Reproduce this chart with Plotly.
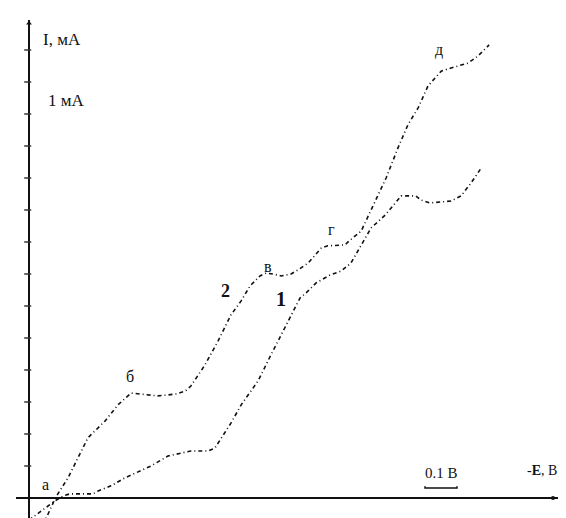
import plotly.graph_objects as go

# Curve 2 (upper): potential -E (V) and current I (mA)
e2 = [0.044, 0.084, 0.122, 0.184, 0.238, 0.278, 0.319, 0.366, 0.403, 0.434, 0.459, 0.488,
      0.506, 0.550, 0.591, 0.631, 0.663, 0.691, 0.722, 0.741, 0.763, 0.788, 0.819, 0.841,
      0.872, 0.913, 0.934, 0.988, 1.000, 1.038, 1.066, 1.091, 1.116, 1.153, 1.184, 1.216,
      1.247, 1.288, 1.319, 1.372, 1.403, 1.438]
i2 = [-0.084, 0.003, 0.063, 0.188, 0.241, 0.291, 0.328, 0.322, 0.319, 0.322, 0.325, 0.334,
      0.350, 0.416, 0.491, 0.572, 0.616, 0.663, 0.694, 0.703, 0.700, 0.694, 0.700, 0.713,
      0.734, 0.781, 0.788, 0.791, 0.803, 0.834, 0.891, 0.947, 1.000, 1.094, 1.166, 1.219,
      1.288, 1.334, 1.344, 1.359, 1.381, 1.416]

# Curve 1 (lower)
e1 = [0.000, 0.038, 0.081, 0.106, 0.128, 0.200, 0.216, 0.256, 0.300, 0.381, 0.434, 0.506,
      0.559, 0.581, 0.631, 0.663, 0.716, 0.756, 0.788, 0.819, 0.847, 0.866, 0.897, 0.941,
      0.975, 1.006, 1.038, 1.069, 1.113, 1.144, 1.163, 1.209, 1.225, 1.253, 1.300, 1.319,
      1.350, 1.381, 1.413]
i1 = [-0.069, -0.041, -0.009, 0.006, 0.013, 0.013, 0.022, 0.038, 0.063, 0.100, 0.131, 0.147,
      0.147, 0.156, 0.234, 0.291, 0.366, 0.447, 0.509, 0.572, 0.625, 0.641, 0.672, 0.697,
      0.709, 0.734, 0.791, 0.844, 0.884, 0.922, 0.944, 0.944, 0.931, 0.922, 0.925, 0.928,
      0.944, 0.984, 1.031]

y_ticks = [0.1 * k for k in range(1, 15)]

# point labels: (text, E, I)
point_labels = [("а", 0.053, 0.041), ("б", 0.316, 0.381), ("в", 0.747, 0.725),
                ("г", 0.944, 0.838), ("д", 1.281, 1.400)]
curve_labels = [("2", 0.613, 0.647, 18), ("1", 0.788, 0.622, 20)]

scale_start = 1.2375
scale_len = 0.1

X_RANGE = [-0.040625, 1.6625]
Y_RANGE = [-0.0875, 1.49375]

SERIF = "Liberation Serif, Times New Roman, serif"
DASH = "4px,3px,1px,3px"
INK = "#111111"

fig = go.Figure()
fig.add_trace(go.Scatter(x=e2, y=i2, mode="lines",
                         line=dict(color=INK, width=1.6, dash=DASH),
                         hoverinfo="skip", showlegend=False))
fig.add_trace(go.Scatter(x=e1, y=i1, mode="lines",
                         line=dict(color=INK, width=1.6, dash=DASH),
                         hoverinfo="skip", showlegend=False))
# y-axis tick marks (left of the axis)
fig.add_trace(go.Scatter(x=[-0.004] * len(y_ticks), y=y_ticks, mode="markers",
                         marker=dict(symbol="line-ew-open", size=5, color="#333333",
                                     line=dict(color="#333333", width=1.5)),
                         hoverinfo="skip", showlegend=False))
# scale bar 0.1 V
fig.add_trace(go.Scatter(x=[scale_start, scale_start, scale_start + scale_len, scale_start + scale_len],
                         y=[0.037, 0.031, 0.031, 0.037], mode="lines",
                         line=dict(color=INK, width=1.5),
                         hoverinfo="skip", showlegend=False))
# axis end marks
fig.add_trace(go.Scatter(x=[1.6375], y=[0], mode="markers",
                         marker=dict(symbol="circle", size=4, color=INK),
                         hoverinfo="skip", showlegend=False))
fig.add_trace(go.Scatter(x=[0], y=[Y_RANGE[1] - 0.01], mode="markers",
                         marker=dict(symbol="triangle-up", size=5, color=INK),
                         hoverinfo="skip", showlegend=False))

annotations = []
for t, x, y in point_labels:
    annotations.append(dict(x=x, y=y, text=t, showarrow=False,
                            font=dict(family=SERIF, size=16, color=INK)))
for t, x, y, s in curve_labels:
    annotations.append(dict(x=x, y=y, text="<b>%s</b>" % t, showarrow=False,
                            font=dict(family=SERIF, size=s, color=INK)))
annotations.append(dict(x=scale_start + scale_len / 2, y=0.078, text="0.1 В", showarrow=False,
                        font=dict(family=SERIF, size=15, color=INK)))
annotations.append(dict(xref="paper", yref="paper", x=0.996, y=0.091, text="-<b>E</b>, В",
                        showarrow=False, xanchor="right",
                        font=dict(family=SERIF, size=14, color=INK)))
annotations.append(dict(x=0.0375, y=1.434, text="I, мА", showarrow=False, xanchor="left",
                        font=dict(family=SERIF, size=17, color=INK)))
annotations.append(dict(x=0.053, y=1.241, text="1 мА", showarrow=False, xanchor="left",
                        font=dict(family=SERIF, size=17, color=INK)))

fig.update_layout(
    width=566, height=518,
    margin=dict(l=8, r=13, t=12, b=0),
    paper_bgcolor="white", plot_bgcolor="white",
    xaxis=dict(range=X_RANGE, showgrid=False, showticklabels=False, ticks="",
               zeroline=True, zerolinecolor=INK, zerolinewidth=1.5, fixedrange=True),
    yaxis=dict(range=Y_RANGE, showgrid=False, showticklabels=False, ticks="",
               zeroline=True, zerolinecolor=INK, zerolinewidth=1.5, fixedrange=True),
    annotations=annotations,
)

fig.write_html("out.html")
